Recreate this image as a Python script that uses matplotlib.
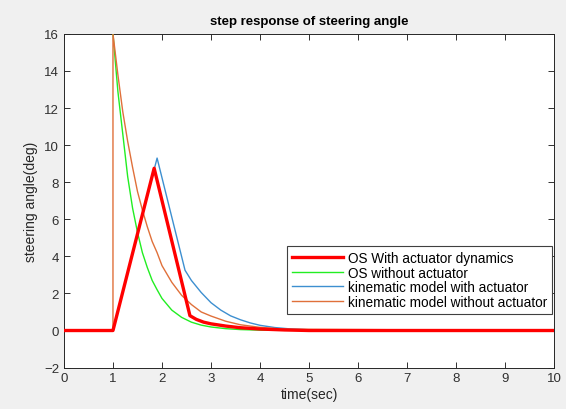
import numpy as np
import matplotlib as mpl
import matplotlib.pyplot as plt

# values
t_red = [0, 1, 1.84, 2.57, 2.7, 2.85, 3.0, 3.3, 3.6, 4.0, 4.5, 5.0, 10]
os_act = [0, 0, 8.75, 0.8, 0.6, 0.45, 0.36, 0.24, 0.15, 0.08, 0.03, 0.0, 0]

t_green = [1, 1.1, 1.2, 1.3, 1.4, 1.5, 1.6, 1.7, 1.8, 1.9, 2.0, 2.2, 2.4,
           2.6, 2.8, 3.0, 3.3, 3.6, 4.0, 10]
os_noact = [16, 12.9, 10.6, 8.3, 6.6, 5.3, 4.2, 3.4, 2.7, 2.2, 1.73, 1.1,
            0.71, 0.45, 0.29, 0.19, 0.1, 0.05, 0.02, 0]

t_blue = [0, 1, 1.9, 2.47, 2.6, 2.8, 3.0, 3.2, 3.4, 3.6, 3.8, 4.0, 4.3, 4.6, 5.0, 10]
kin_act = [0, 0, 9.3, 3.25, 2.7, 2.05, 1.5, 1.1, 0.79, 0.58, 0.41, 0.28, 0.16,
           0.09, 0.04, 0]

t_orange = [0, 1, 1, 1.1, 1.2, 1.3, 1.4, 1.5, 1.6, 1.7, 1.8, 1.9, 2.0, 2.2, 2.4,
            2.6, 2.8, 3.0, 3.3, 3.6, 4.0, 4.5, 10]
kin_noact = [0, 0, 16, 13.8, 11.8, 10.2, 8.8, 7.5, 6.5, 5.6, 4.8, 4.2, 3.5, 2.6,
             1.9, 1.4, 1.0, 0.78, 0.5, 0.31, 0.17, 0.07, 0]

labels = ['OS With actuator dynamics', 'OS without actuator',
          'kinematic model with actuator', 'kinematic model without actuator']

# configuration
mpl.rcParams['font.family'] = ['Liberation Sans', 'DejaVu Sans']
mpl.rcParams['xtick.direction'] = 'in'
mpl.rcParams['ytick.direction'] = 'in'
mpl.rcParams['xtick.top'] = True
mpl.rcParams['ytick.right'] = True

fig = plt.figure(figsize=(5.66, 4.1), dpi=100, facecolor='#f0f0f0')
ax = fig.add_axes([0.113, 0.101, 0.866, 0.814])

ax.plot(t_red, os_act, color='#ff0000', lw=2.4, label=labels[0], zorder=5)
ax.plot(t_green, os_noact, color='#22ee22', lw=1.0, label=labels[1], zorder=3)
ax.plot(t_blue, kin_act, color='#3d8fd0', lw=1.0, label=labels[2], zorder=3)
ax.plot(t_orange, kin_noact, color='#e0703a', lw=1.0, label=labels[3], zorder=3)

ax.set_xlim(0, 10)
ax.set_ylim(-2, 16)
ax.set_xticks(range(11))
ax.set_yticks(range(-2, 17, 2))
ax.tick_params(labelsize=9.5, colors='#303030', length=4, width=0.7)
for s in ax.spines.values():
    s.set_color('#262626')
    s.set_linewidth(0.7)

ax.set_title('step response of steering angle', fontsize=9.5, fontweight='bold', pad=7)
ax.set_xlabel('time(sec)', fontsize=10, color='#262626', labelpad=2)
ax.set_ylabel('steering angle(deg)', fontsize=10, color='#262626', labelpad=4)

leg = ax.legend(loc='upper right', bbox_to_anchor=(0.996, 0.364),
                fontsize=9.8, fancybox=False, framealpha=1,
                edgecolor='#404040', borderpad=0.35, labelspacing=0.05,
                handlelength=3.8, handletextpad=0.35, borderaxespad=0)
leg.get_frame().set_linewidth(0.8)
leg.set_zorder(10)

plt.savefig('out.png', dpi=100, facecolor=fig.get_facecolor())
